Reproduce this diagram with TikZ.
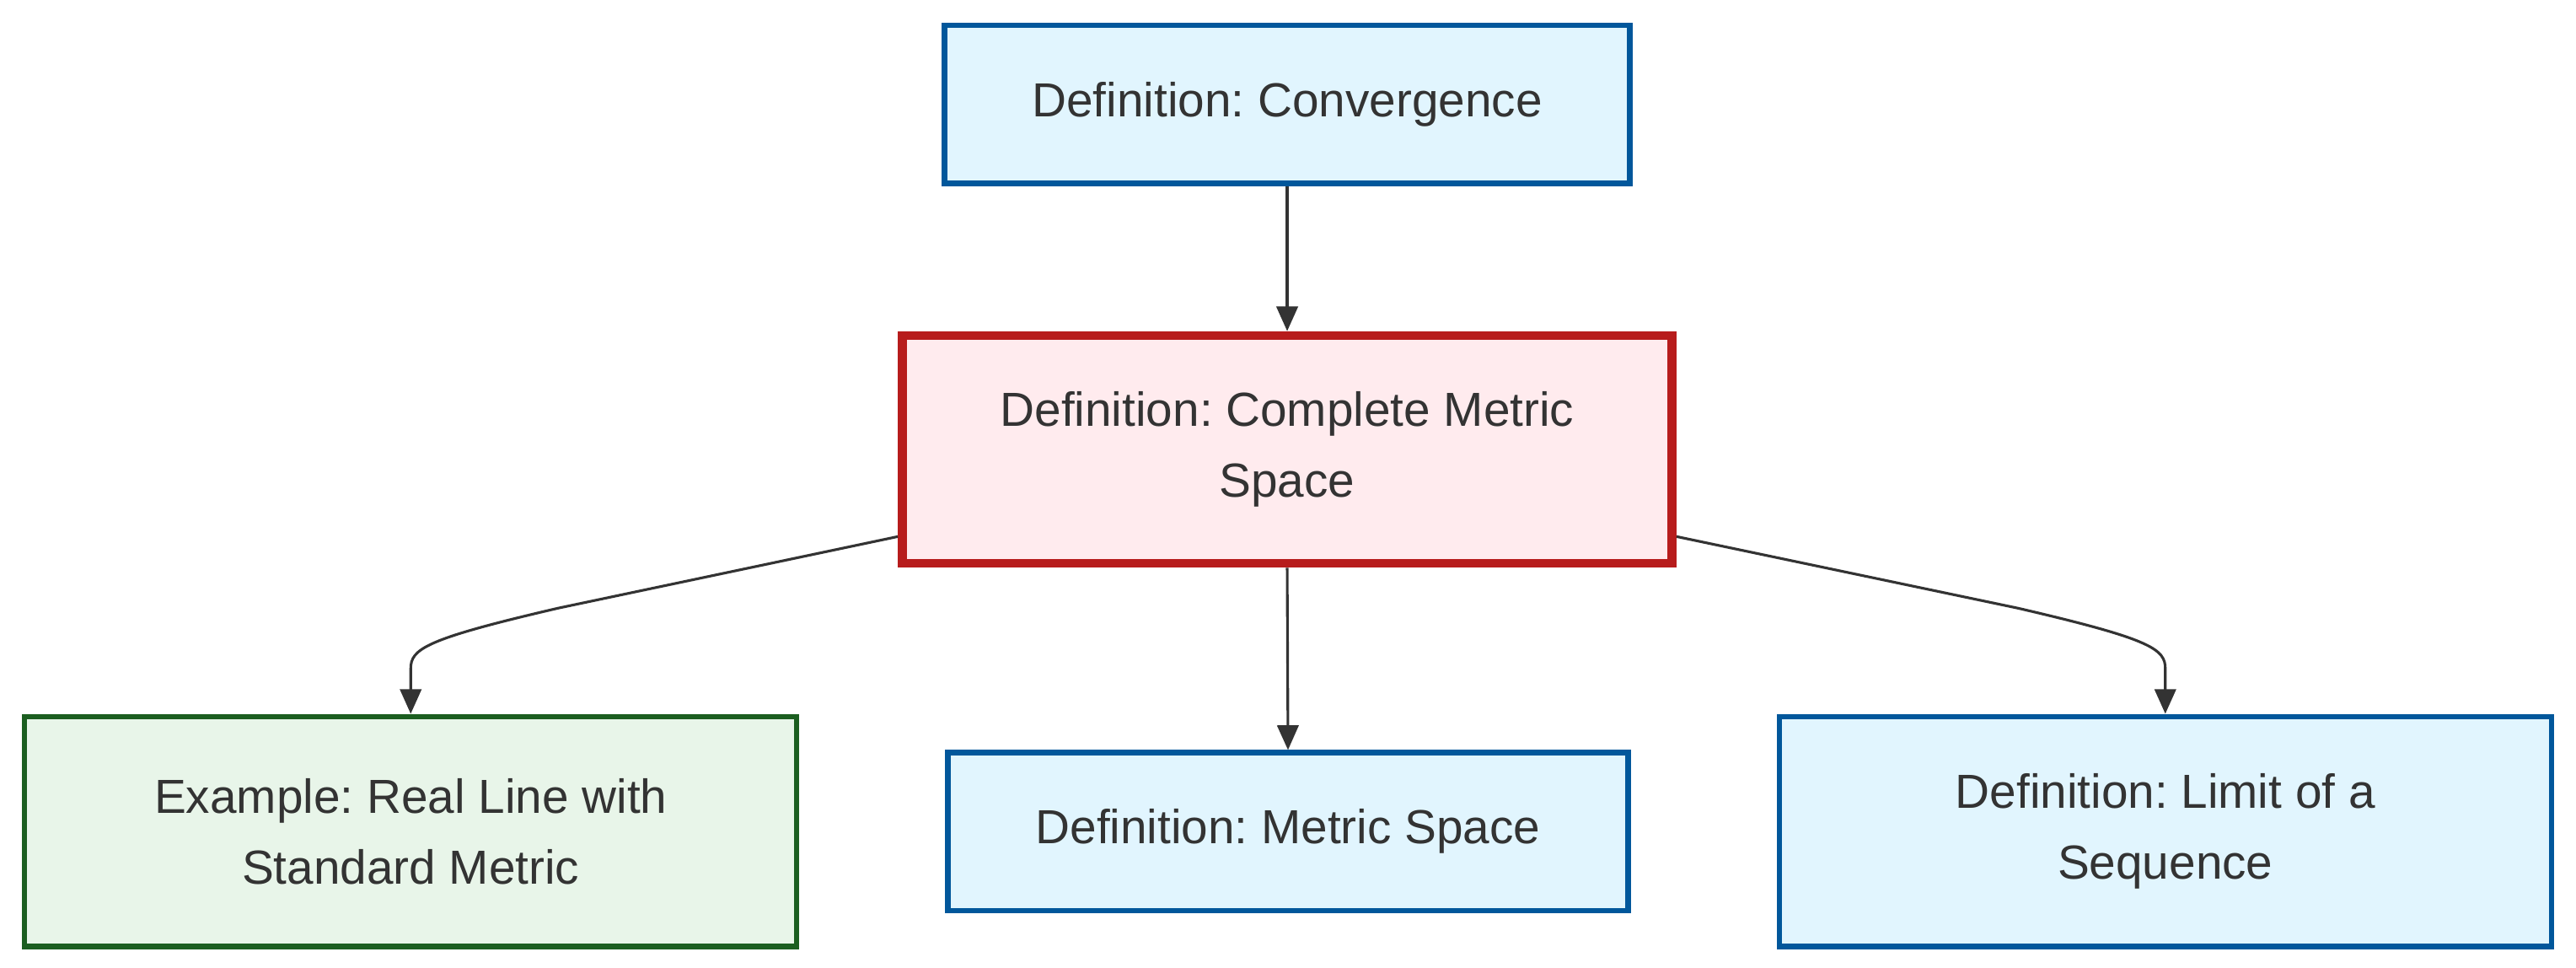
\documentclass[tikz,border=0pt]{standalone}
\usepackage{fontspec}
\setmainfont{Liberation Sans}
\usetikzlibrary{arrows.meta}
\definecolor{txt}{HTML}{333333}
\definecolor{bluefill}{HTML}{E1F5FE}
\definecolor{blueline}{HTML}{01579B}
\definecolor{redfill}{HTML}{FFEBEE}
\definecolor{redline}{HTML}{B71C1C}
\definecolor{greenfill}{HTML}{E8F5E9}
\definecolor{greenline}{HTML}{1B5E20}
\tikzset{
  box/.style={draw, rectangle, inner sep=0pt, align=center, text=txt,
    font=\fontsize{29.1}{43}\selectfont\frenchspacing},
  defbox/.style={box, fill=bluefill, draw=blueline, line width=3.3pt},
  corebox/.style={box, fill=redfill, draw=redline, line width=5.5pt},
  exbox/.style={box, fill=greenfill, draw=greenline, line width=3.3pt},
  link/.style={draw=txt, line width=1.6pt, -{Triangle[length=15pt,width=13pt]}}
}
\begin{document}
\begin{tikzpicture}[x=1pt,y=-1pt]
\useasboundingbox (0,0) rectangle (1568,589);
\node[defbox, minimum width=417pt, minimum height=96pt] (conv) at (783.5,63.5) {Definition: Convergence};
\node[corebox, minimum width=468.5pt, minimum height=138.5pt] (cs) at (783.5,273.5) {Definition: Complete Metric\\Space};
\node[exbox, minimum width=470pt, minimum height=140pt] (ex) at (250,506) {Example: Real Line with\\Standard Metric};
\node[defbox, minimum width=414pt, minimum height=96pt] (ms) at (784,506) {Definition: Metric Space};
\node[defbox, minimum width=470pt, minimum height=140pt] (lim) at (1318,506) {Definition: Limit of a\\Sequence};
\draw[link] (conv.south) -- (cs.north);
\draw[link] (cs.south) -- (ms.north);
\draw[link] ([yshift=19pt]cs.south west) -- (340,370) .. controls (258,389) and (250,395) .. (250,407) -- (ex.north);
\draw[link] ([yshift=19pt]cs.south east) -- (1228,370) .. controls (1310,389) and (1318,395) .. (1318,407) -- (lim.north);
\end{tikzpicture}
\end{document}
